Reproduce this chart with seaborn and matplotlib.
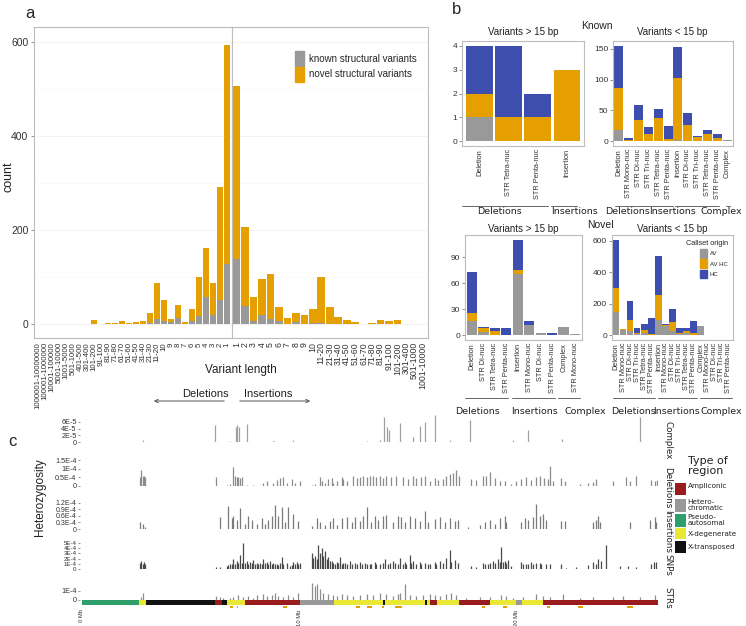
import matplotlib
matplotlib.use("Agg")
import numpy as np
import matplotlib.pyplot as plt
import seaborn as sns
from matplotlib.patches import Patch, Rectangle, FancyArrowPatch
from matplotlib.lines import Line2D

# ---------------------------------------------------------------------------
# data: panel a (variant length histogram)
# ---------------------------------------------------------------------------
del_bins = ["1000001-10000000", "100001-1000000", "10001-100000", "5001-10000", "1001-5000",
            "501-1000", "401-500", "301-400", "101-200", "91-100", "81-90", "71-80", "61-70",
            "51-60", "41-50", "31-40", "21-30", "11-20", "10", "9", "8", "7", "6", "5", "4",
            "3", "2", "1"]
del_total = [0, 1, 0, 0, 0, 0, 0, 1, 9, 1, 3, 2, 6, 3, 4, 7, 24, 88, 51, 11, 40, 5, 31, 101,
             162, 87, 291, 594]
del_known = [0, 0, 0, 0, 0, 0, 0, 0, 0, 0, 0, 0, 0, 0, 0, 0, 2, 11, 7, 5, 12, 0, 7, 18, 57,
             20, 52, 128]

ins_bins = ["1", "2", "3", "4", "5", "6", "7", "8", "9", "10", "11-20", "21-30", "31-40",
            "41-50", "51-60", "61-70", "71-80", "81-90", "91-100", "101-200", "301-400",
            "501-1000", "1001-10000"]
ins_total = [507, 207, 58, 95, 106, 37, 13, 23, 19, 33, 101, 37, 15, 8, 4, 1, 3, 8, 6, 9, 1, 1, 1]
ins_known = [138, 39, 7, 20, 11, 7, 0, 5, 0, 2, 3, 0, 0, 0, 0, 0, 0, 0, 0, 0, 0, 0, 0]

# ---------------------------------------------------------------------------
# data: panel b (callset origin)
# ---------------------------------------------------------------------------
kl_labels = ["Deletion", "STR Tetra-nuc", "STR Penta-nuc", "Insertion"]
kl_av = [1, 0, 0, 0]
kl_avhc = [1, 1, 1, 3]
kl_hc = [2, 3, 1, 0]

ks_labels = ["Deletion", "STR Mono-nuc", "STR Di-nuc", "STR Tri-nuc", "STR Tetra-nuc",
             "STR Penta-nuc", "Insertion", "STR Di-nuc", "STR Tri-nuc", "STR Tetra-nuc",
             "STR Penta-nuc", "Complex"]
ks_av = [18, 0, 0, 0, 0, 0, 2, 0, 0, 0, 0, 2]
ks_avhc = [69, 2, 35, 12, 38, 4, 100, 27, 7, 11, 5, 0]
ks_hc = [68, 4, 24, 11, 15, 20, 51, 19, 2, 8, 7, 0]

nl_labels = ["Deletion", "STR Di-nuc", "STR Tetra-nuc", "STR Penta-nuc", "Insertion",
             "STR Mono-nuc", "STR Di-nuc", "STR Penta-nuc", "Complex", "STR Mono-nuc"]
nl_av = [16, 4, 0, 0, 70, 12, 2, 0, 9, 1]
nl_avhc = [10, 4, 5, 0, 5, 0, 0, 0, 0, 0]
nl_hc = [47, 2, 3, 8, 35, 4, 0, 3, 0, 0]

ns_labels = ["Deletion", "STR Mono-nuc", "STR Di-nuc", "STR Tri-nuc", "STR Tetra-nuc",
             "STR Penta-nuc", "Insertion", "STR Mono-nuc", "STR Di-nuc", "STR Tri-nuc",
             "STR Tetra-nuc", "STR Penta-nuc", "Complex", "STR Mono-nuc", "STR Di-nuc",
             "STR Tri-nuc", "STR Penta-nuc"]
ns_av = [148, 33, 25, 8, 13, 4, 97, 60, 28, 8, 17, 4, 57, 4, 2, 2, 2]
ns_avhc = [149, 4, 72, 9, 21, 4, 159, 4, 53, 9, 11, 9, 2, 0, 0, 0, 0]
ns_hc = [309, 5, 119, 30, 36, 104, 244, 6, 84, 28, 19, 78, 0, 0, 0, 0, 0]

# ---------------------------------------------------------------------------
# data: panel c (heterozygosity along chrY, positions in Mb)
# ---------------------------------------------------------------------------
cx_pos = [2.79, 6.12, 6.80, 7.08, 7.14, 7.23, 7.60, 8.80, 8.85, 9.72, 13.09, 13.70, 13.88,
          14.04, 14.13, 14.62, 15.23, 15.54, 15.77, 16.23, 16.92, 17.84, 19.37, 19.83, 20.52,
          22.10, 25.66]
cx_het = [0.7, 5.0, 0.5, 4.5, 5.0, 4.5, 5.3, 0.5, 0.5, 0.7, 0.3, 0.7, 7.5, 4.5, 3.6, 5.5, 1.6,
          4.7, 6.0, 8.0, 0.7, 6.5, 0.2, 0.7, 3.6, 0.9, 7.5]  # x1E-5

del_pos = [2.68, 2.73, 2.79, 2.84, 2.90, 6.16, 6.65, 6.80, 6.96, 7.03, 7.11, 7.19, 7.26, 7.34,
           7.57, 7.88, 8.34, 8.49, 8.80, 8.95, 9.10, 9.26, 9.41, 9.64, 9.79, 10.02, 10.56,
           10.71, 10.94, 11.02, 11.17, 11.33, 11.48, 11.56, 11.71, 11.94, 12.02, 12.17, 12.47,
           12.63, 12.78, 12.93, 13.09, 13.24, 13.39, 13.55, 13.70, 13.85, 14.01, 14.24, 14.47,
           14.77, 15.00, 15.23, 15.39, 15.62, 15.77, 16.00, 16.23, 16.38, 16.61, 16.77, 16.92,
           17.07, 17.22, 17.35, 17.91, 18.14, 18.45, 18.60, 18.76, 18.99, 19.22, 19.45, 19.75,
           19.98, 20.21, 20.44, 20.67, 20.90, 21.06, 21.24, 21.44, 21.52, 21.67, 22.05, 22.21,
           22.90, 23.28, 23.51, 23.66, 24.43, 25.04, 25.19, 25.50, 26.19, 26.34, 26.45]
del_het = [0.5, 0.9, 0.6, 0.55, 0.5, 0.5, 0.05, 0.1, 1.1, 0.55, 0.5, 0.5, 0.45, 0.5, 0.05,
           0.05, 0.2, 0.3, 0.2, 0.35, 0.45, 0.5, 0.2, 0.4, 0.2, 0.3, 0.05, 0.1, 0.5, 0.3, 0.2,
           0.4, 0.45, 0.2, 0.3, 0.5, 0.4, 0.3, 0.55, 0.45, 0.5, 0.55, 0.5, 0.6, 0.55, 0.5, 0.6,
           0.45, 0.55, 0.5, 0.55, 0.5, 0.4, 0.55, 0.45, 0.5, 0.6, 0.3, 0.45, 0.35, 0.4, 0.6,
           0.7, 0.75, 0.95, 0.6, 0.4, 0.35, 0.6, 0.55, 0.8, 0.45, 0.3, 0.3, 0.1, 0.3, 0.4, 0.5,
           0.35, 0.5, 0.55, 0.45, 0.4, 1.15, 0.3, 0.45, 0.3, 0.1, 0.2, 0.25, 0.4, 0.3, 0.5,
           0.3, 0.55, 0.35, 0.3, 0.35]  # x1E-4

ins_pos = [2.67, 2.79, 2.90, 6.35, 6.73, 6.88, 6.96, 7.11, 7.26, 7.49, 7.65, 7.80, 8.03, 8.26,
           8.41, 8.57, 8.72, 8.87, 9.03, 9.18, 9.33, 9.49, 9.72, 9.95, 10.56, 10.79, 10.94,
           11.17, 11.40, 11.56, 11.71, 11.94, 12.17, 12.40, 12.55, 12.78, 12.93, 13.09, 13.32,
           13.47, 13.62, 13.85, 14.01, 14.31, 14.54, 14.70, 14.85, 15.08, 15.31, 15.54, 15.77,
           15.92, 16.23, 16.46, 16.69, 16.92, 17.15, 17.30, 17.76, 18.30, 18.53, 18.76, 18.99,
           19.22, 19.45, 19.52, 20.21, 20.37, 20.52, 20.75, 20.90, 21.06, 21.21, 21.33, 22.05,
           22.21, 23.51, 23.66, 23.74, 23.81, 25.19, 26.11, 26.34, 26.42]
ins_het = [0.3, 0.25, 0.1, 0.55, 1.05, 0.5, 0.6, 0.4, 0.95, 0.25, 0.6, 0.4, 0.25, 0.5, 0.25,
           0.4, 0.6, 1.1, 0.6, 1.0, 0.3, 1.0, 0.7, 0.35, 0.15, 0.5, 0.3, 0.2, 0.35, 0.5, 0.2,
           0.5, 0.55, 0.3, 0.55, 0.35, 0.6, 1.0, 0.3, 0.6, 0.4, 0.6, 0.65, 0.3, 0.6, 0.55, 0.3,
           0.6, 0.5, 0.35, 0.8, 0.3, 0.45, 0.55, 0.3, 0.5, 0.35, 0.4, 0.1, 0.2, 0.3, 0.4, 0.25,
           0.5, 0.6, 0.3, 0.3, 0.5, 0.4, 0.55, 1.15, 0.6, 0.7, 0.4, 0.35, 0.35, 0.3, 0.4, 0.6,
           0.3, 0.3, 0.4, 0.55, 0.3]  # x1E-4

snp_pos = [2.68, 2.73, 2.79, 2.84, 2.90, 6.16, 6.35, 6.65, 6.73, 6.80, 6.88, 6.96, 7.03, 7.11,
           7.19, 7.26, 7.34, 7.42, 7.49, 7.57, 7.65, 7.72, 7.80, 7.88, 7.95, 8.03, 8.11, 8.18,
           8.26, 8.34, 8.41, 8.49, 8.57, 8.64, 8.72, 8.80, 8.87, 8.95, 9.03, 9.10, 9.18, 9.26,
           9.41, 9.56, 9.64, 9.72, 9.79, 9.87, 9.95, 10.02, 10.56, 10.64, 10.71, 10.79, 10.87,
           10.94, 11.02, 11.09, 11.17, 11.25, 11.33, 11.40, 11.48, 11.56, 11.63, 11.71, 11.79,
           11.86, 11.94, 12.02, 12.09, 12.17, 12.32, 12.40, 12.55, 12.63, 12.78, 12.86, 13.01,
           13.09, 13.24, 13.32, 13.47, 13.55, 13.70, 13.85, 13.93, 14.08, 14.16, 14.31, 14.39,
           14.54, 14.62, 14.77, 14.85, 14.93, 15.08, 15.16, 15.23, 15.39, 15.54, 15.62, 15.77,
           15.92, 16.00, 16.23, 16.31, 16.46, 16.61, 16.77, 16.92, 17.00, 17.15, 17.30, 17.91,
           18.14, 18.45, 18.53, 18.68, 18.76, 18.91, 18.99, 19.14, 19.22, 19.29, 19.37, 19.45,
           19.52, 19.60, 19.75, 20.21, 20.29, 20.44, 20.52, 20.67, 20.75, 20.90, 21.06, 21.13,
           21.36, 21.52, 22.05, 22.28, 22.74, 23.28, 23.51, 23.66, 23.74, 23.89, 24.12, 24.73,
           25.12, 25.50, 26.19, 26.30, 26.42]
snp_het = [1.2, 1.5, 1.0, 1.4, 0.9, 0.3, 0.3, 0.5, 0.8, 1.0, 0.9, 2.0, 1.0, 1.5, 1.1, 2.7, 1.2,
           4.9, 1.1, 1.5, 1.0, 1.3, 1.1, 1.8, 1.0, 1.2, 0.9, 1.1, 1.0, 2.0, 1.1, 1.3, 0.9, 1.6,
           1.0, 1.1, 0.9, 1.0, 0.8, 1.1, 2.4, 1.0, 1.2, 0.5, 0.7, 1.4, 1.0, 1.3, 0.9, 1.1, 3.0,
           2.2, 2.5, 2.0, 4.6, 3.0, 4.0, 2.5, 3.5, 2.0, 2.4, 1.5, 1.6, 1.2, 1.0, 1.3, 1.1, 2.3,
           1.0, 1.1, 1.2, 0.9, 1.5, 1.0, 1.1, 0.9, 1.4, 1.0, 1.1, 0.9, 1.0, 0.9, 1.3, 1.0, 1.0,
           1.2, 2.0, 1.0, 1.1, 1.6, 1.2, 1.0, 2.2, 1.0, 1.4, 0.9, 2.7, 1.1, 1.5, 1.0, 1.3, 1.0,
           1.2, 0.9, 1.0, 1.4, 1.0, 1.6, 1.1, 2.2, 3.6, 1.3, 1.8, 1.2, 0.6, 0.4, 1.2, 0.9, 1.0,
           1.1, 1.6, 1.2, 2.0, 1.3, 4.3, 1.4, 1.5, 1.1, 1.8, 0.5, 1.3, 0.9, 1.0, 0.9, 1.4, 1.0,
           1.2, 1.1, 0.9, 0.9, 1.0, 1.0, 0.2, 0.3, 0.8, 1.3, 1.0, 2.0, 1.6, 4.6, 0.6, 0.6, 0.4,
           1.0, 1.4, 1.3]  # x1E-4

str_pos = [2.73, 2.79, 6.16, 6.35, 6.50, 6.80, 6.96, 7.19, 7.42, 7.65, 7.88, 8.03, 8.34, 8.49,
           8.72, 8.87, 9.03, 9.26, 9.49, 9.72, 9.95, 10.56, 10.71, 10.79, 10.94, 11.09, 11.33,
           11.56, 11.71, 11.94, 12.17, 12.47, 12.78, 13.09, 13.39, 13.70, 14.01, 14.31, 14.54,
           14.62, 14.85, 15.08, 15.39, 15.69, 16.00, 16.23, 16.46, 16.77, 17.00, 17.22, 17.68,
           18.30, 18.76, 19.29, 19.52, 19.83, 20.29, 20.90, 21.21, 21.52, 22.13, 22.90, 23.51,
           24.43, 24.89, 25.65, 26.34]
str_het = [0.3, 0.8, 0.4, 0.3, 0.2, 0.2, 0.3, 0.5, 0.3, 0.4, 0.25, 0.5, 0.6, 0.4, 0.5, 0.7,
           0.4, 0.3, 0.5, 0.3, 0.8, 1.8, 1.5, 1.7, 1.2, 0.8, 0.6, 0.5, 0.4, 0.6, 0.5, 0.4, 0.5,
           0.6, 0.5, 0.7, 0.6, 0.4, 0.6, 0.8, 1.7, 0.5, 0.4, 0.5, 0.6, 0.5, 0.4, 0.6, 0.7, 0.5,
           0.2, 0.3, 0.3, 0.5, 0.4, 0.2, 0.3, 0.6, 0.4, 0.3, 0.6, 0.2, 0.3, 0.3, 0.4, 0.3,
           0.5]  # x1E-4

str_mark_start = [6.80, 7.15, 9.24, 12.60, 13.10, 13.82, 14.39, 18.39, 19.36, 21.38, 22.80, 25.06]
str_mark_end = [6.95, 7.20, 9.43, 12.78, 13.33, 13.88, 14.71, 18.53, 19.54, 21.52, 23.03, 25.33]

region_start = [0, 2.62, 2.94, 6.11, 6.44, 6.67, 7.49, 10.02, 11.59, 13.84, 13.93, 15.77, 15.86,
                16.00, 16.32, 17.33, 18.76, 19.95, 20.23, 21.20]
region_end = [2.62, 2.94, 6.11, 6.44, 6.67, 7.49, 10.02, 11.59, 13.84, 13.93, 15.77, 15.86,
              16.00, 16.32, 17.33, 18.76, 19.95, 20.23, 21.20, 26.48]
region_type = ["Pseudo-autosomal", "X-degenerate", "X-transposed", "Ampliconic", "X-transposed",
               "X-degenerate", "Ampliconic", "Hetero-chromatic", "X-degenerate", "X-transposed",
               "X-degenerate", "X-transposed", "X-degenerate", "Ampliconic", "X-degenerate",
               "Ampliconic", "X-degenerate", "Hetero-chromatic", "X-degenerate", "Ampliconic"]

# ---------------------------------------------------------------------------
# style
# ---------------------------------------------------------------------------
sns.set_style("white")
plt.rcParams['font.family'] = ['Liberation Sans', 'DejaVu Sans']

ORANGE = "#E69F00"
GREY = "#999999"
BLUE = "#3D4EAF"
BORDER = "#BDBDBD"
TXT = "#333333"
region_colors = {"Ampliconic": "#981B1E", "Hetero-chromatic": "#999999",
                 "Pseudo-autosomal": "#2E9E6B", "X-degenerate": "#E8E835",
                 "X-transposed": "#111111"}

W, H = 746, 626
fig = plt.figure(figsize=(W / 100, H / 100), dpi=100)


def add_ax(x0, y0, x1, y1):
    # pixel box (top-left origin) -> figure axes
    return fig.add_axes([x0 / W, 1 - y1 / H, (x1 - x0) / W, (y1 - y0) / H])


def ftext(x, y, s, **kw):
    return fig.text(x / W, 1 - y / H, s, **kw)


def fline(x0, x1, y, color="#555555", lw=0.8):
    fig.add_artist(Line2D([x0 / W, x1 / W], [1 - y / H, 1 - y / H],
                          transform=fig.transFigure, color=color, lw=lw))


def frame(ax):
    for s in ax.spines.values():
        s.set_color(BORDER)
        s.set_linewidth(0.8)


def stacked(ax, layers, colors):
    # layers are cumulative tops, drawn tallest first
    n = len(layers[0])
    for vals, col in zip(layers, colors):
        sns.barplot(x=np.arange(n), y=vals, color=col, saturation=1, width=0.9,
                    errorbar=None, ax=ax, linewidth=0)
    ax.set_xlim(-0.6, n - 0.4)
    top = max(layers[0])
    ax.set_ylim(-0.05 * top, 1.05 * top)
    ax.set_xlabel("")
    ax.set_ylabel("")


# ---------------------------------------------------------------------------
# panel a
# ---------------------------------------------------------------------------
axL = add_ax(34, 27, 231.5, 338)
axR = add_ax(231.5, 27, 428, 338)
ymax_a = max(max(del_total), max(ins_total))
for ax, tot, kn, labs, fs in [(axL, del_total, del_known, del_bins, 5.7),
                              (axR, ins_total, ins_known, ins_bins, 6.3)]:
    stacked(ax, [tot, kn], [ORANGE, GREY])
    ax.set_ylim(-0.05 * ymax_a, 1.065 * ymax_a)
    ax.set_yticks([0, 200, 400, 600])
    ax.set_yticks([100, 300, 500], minor=True)
    ax.grid(True, axis="y", which="major", color="#F0F0F0", lw=0.6)
    ax.grid(True, axis="y", which="minor", color="#F7F7F7", lw=0.4)
    ax.set_axisbelow(True)
    ax.set_xticks(np.arange(len(labs)))
    ax.set_xticklabels(labs, rotation=90, fontsize=fs, color=TXT)
    ax.tick_params(axis="x", length=2, width=0.5, color="#666666", pad=1)
    frame(ax)
axL.tick_params(axis="y", labelsize=7.5, labelcolor=TXT, length=2, width=0.5, color="#666666",
                left=True, pad=2)
axR.tick_params(axis="y", left=False, labelleft=False)
axR.legend(handles=[Patch(color=GREY, label="known structural variants"),
                    Patch(color=ORANGE, label="novel structural variants")],
           loc="upper right", bbox_to_anchor=(0.985, 0.95), frameon=False, fontsize=7,
           handlelength=0.9, handleheight=1.9, handletextpad=0.5, labelspacing=0.15)

ftext(25, 14, "a", fontsize=12, va="center")
ftext(9, 177, "count", fontsize=9, rotation=90, ha="center", va="center", color="#222222")
ftext(241, 370, "Variant length", fontsize=8.5, ha="center", va="center", color="#222222")
ftext(205, 394, "Deletions", fontsize=8, ha="center", va="center", color="#222222")
ftext(268, 394, "Insertions", fontsize=8, ha="center", va="center", color="#222222")
for xa, xb in [(227, 151), (237, 313)]:
    fig.add_artist(FancyArrowPatch((xa / W, 1 - 401 / H), (xb / W, 1 - 401 / H),
                                   transform=fig.transFigure, arrowstyle="->",
                                   mutation_scale=6, lw=0.7, color="#555555"))

# ---------------------------------------------------------------------------
# panel b
# ---------------------------------------------------------------------------
b_panels = [
    ((462, 41, 584, 146), kl_labels, kl_av, kl_avhc, kl_hc, [0, 1, 2, 3, 4]),
    ((613, 41, 733, 146), ks_labels, ks_av, ks_avhc, ks_hc, [0, 50, 100, 150]),
    ((465, 235, 582, 340), nl_labels, nl_av, nl_avhc, nl_hc, [0, 30, 60, 90]),
    ((612, 235, 733, 340), ns_labels, ns_av, ns_avhc, ns_hc, [0, 200, 400, 600]),
]
b_axes = []
for box, labs, av, avhc, hc, yt in b_panels:
    ax = add_ax(*box)
    av = np.array(av)
    mid = av + np.array(avhc)
    tot = mid + np.array(hc)
    stacked(ax, [tot, mid, av], [BLUE, ORANGE, GREY])
    ax.set_yticks(yt)
    ax.set_xticks(np.arange(len(labs)))
    ax.set_xticklabels(labs, rotation=90, fontsize=5.3, color=TXT)
    ax.tick_params(axis="y", labelsize=6, labelcolor=TXT, length=2, width=0.5,
                   color="#666666", left=True, pad=1.5)
    ax.tick_params(axis="x", length=0, pad=2)
    frame(ax)
    b_axes.append(ax)

b_axes[3].legend(handles=[Patch(color=GREY, label="AV"), Patch(color=ORANGE, label="AV HC"),
                          Patch(color=BLUE, label="HC")],
                 title="Callset origin", loc="upper right", bbox_to_anchor=(1.0, 1.0),
                 frameon=False, fontsize=4.3, title_fontsize=5.3, handlelength=1.3,
                 handleheight=1.9, handletextpad=0.4, labelspacing=0.25,
                 alignment="right")

ftext(452, 10, "b", fontsize=12, va="center")
for x, y, s in [(523, 32, "Variants > 15 bp"), (672, 32, "Variants < 15 bp"),
                (523, 229, "Variants > 15 bp"), (672, 229, "Variants < 15 bp")]:
    ftext(x, y, s, fontsize=7, ha="center", va="center", color="#222222")
ftext(597, 26, "Known", fontsize=7.5, ha="center", va="center", color="#222222")
ftext(600, 225, "Novel", fontsize=7.5, ha="center", va="center", color="#222222")

group_lines = [(462, 548, 206), (551, 577, 206), (615, 673, 206), (675, 719, 206),
               (726, 730, 206), (465, 508, 398), (512, 555, 398), (558, 580, 398),
               (613, 655, 398), (658, 697, 398), (700, 732, 398)]
for xa, xb, y in group_lines:
    fline(xa, xb, y, color="#666666", lw=0.7)
group_labels = [(500, 212, "Deletions"), (574, 212, "Insertions"), (627, 212, "Deletions"),
                (673, 212, "Insertions"), (721, 212, "Complex"), (478, 412, "Deletions"),
                (535, 412, "Insertions"), (585, 412, "Complex"), (633, 412, "Deletions"),
                (676, 412, "Insertions"), (721, 412, "Complex")]
for x, y, s in group_labels:
    ftext(x, y, s, fontsize=6.8, ha="center", va="center", color="#222222",
          family="DejaVu Sans")

# ---------------------------------------------------------------------------
# panel c
# ---------------------------------------------------------------------------
XLIM = (-0.09, 26.5)
tracks = [
    ("Complex", cx_pos, cx_het, 1e-5, (414.2, 442.3), 8.2e-5,
     [0, 2e-5, 4e-5, 6e-5], ["0", "2E-5", "4E-5", "6E-5"], "#A0A0A0", 440, 5.2),
    ("Deletions", del_pos, del_het, 1e-4, (458.3, 486), 1.6e-4,
     [0, 0.5e-4, 1e-4, 1.5e-4], ["0", "0.5E-4", "1E-4", "1.5E-4"], "#8C8C8C", 488, 5.2),
    ("Insertions", ins_pos, ins_het, 1e-4, (500.5, 529), 1.3e-4,
     [0, 0.3e-4, 0.6e-4, 0.9e-4, 1.2e-4], ["0", "0.3E-4", "0.6E-4", "0.9E-4", "1.2E-4"],
     "#7A7A7A", 531, 5.0),
    ("SNPs", snp_pos, snp_het, 1e-4, (541.4, 569), 5.3e-4,
     [0, 1e-4, 2e-4, 3e-4, 4e-4, 5e-4], ["0", "1E-4", "2E-4", "3E-4", "4E-4", "5E-4"],
     "#4A4A4A", 565, 4.4),
    ("STRs", str_pos, str_het, 1e-4, (581.4, 600), 2e-4,
     [0, 1e-4], ["0", "1E-4"], "#8C8C8C", 598, 5.2),
]
for name, pos, het, unit, (ya, yb), ytop, yt, ytl, col, ylab, fs in tracks:
    ax = add_ax(80, ya, 658, yb)
    ax.vlines(pos, 0, np.array(het) * unit, colors=col, lw=0.9)
    ax.set_xlim(*XLIM)
    ax.set_ylim(0, ytop)
    ax.set_yticks(yt)
    ax.set_yticklabels(ytl)
    ax.set_xticks([])
    ax.tick_params(axis="y", labelsize=fs, labelcolor=TXT, length=1.5, width=0.5,
                   color="#666666", left=True, pad=1)
    for s in ax.spines.values():
        s.set_visible(False)
    ax.patch.set_alpha(0)
    ftext(668, ylab, name, fontsize=6.3, rotation=-90, ha="center", va="center",
          color="#222222", family="DejaVu Sans")

band = add_ax(80, 600, 658, 604.5)
for s, e, t in zip(region_start, region_end, region_type):
    band.axvspan(s, e, color=region_colors[t], lw=0)
band.set_xlim(*XLIM)
band.axis("off")

marks = add_ax(80, 605.5, 658, 608)
for s, e in zip(str_mark_start, str_mark_end):
    marks.axvspan(s, e, ymin=0.2, ymax=0.8, color=ORANGE, lw=0)
marks.set_xlim(*XLIM)
marks.set_yticks([])
marks.set_xticks([0, 10, 20])
marks.set_xticklabels(["0 Mb", "10 Mb", "20 Mb"], rotation=90, fontsize=4.2, color=TXT)
marks.tick_params(axis="x", length=0, pad=1)
for s in marks.spines.values():
    s.set_visible(False)
marks.patch.set_alpha(0)

ftext(12, 442, "c", fontsize=12, ha="center", va="center")
ftext(40, 497, "Heterozygosity", fontsize=8.5, rotation=90, ha="center", va="center",
      color="#222222")

# region legend
ftext(688, 466, "Type of\nregion", fontsize=8, ha="left", va="center", color="#222222",
      family="DejaVu Sans", linespacing=1.0)
leg_items = [("Ampliconic", 483, 495, 486), ("Hetero-\nchromatic", 499, 512, 505),
             ("Pseudo-\nautosomal", 514, 527, 520), ("X-degenerate", 528, 539, 534),
             ("X-transposed", 541, 553, 547)]
for lab, ya, yb, yt in leg_items:
    key = lab.replace("\n", "")
    fig.add_artist(Rectangle((675 / W, 1 - yb / H), 11 / W, (yb - ya) / H,
                             transform=fig.transFigure, color=region_colors[key], lw=0))
    ftext(687.5, yt, lab, fontsize=5.2, ha="left", va="center", color="#222222",
          family="DejaVu Sans", linespacing=0.95)

fig.savefig("out.png", dpi=100)
